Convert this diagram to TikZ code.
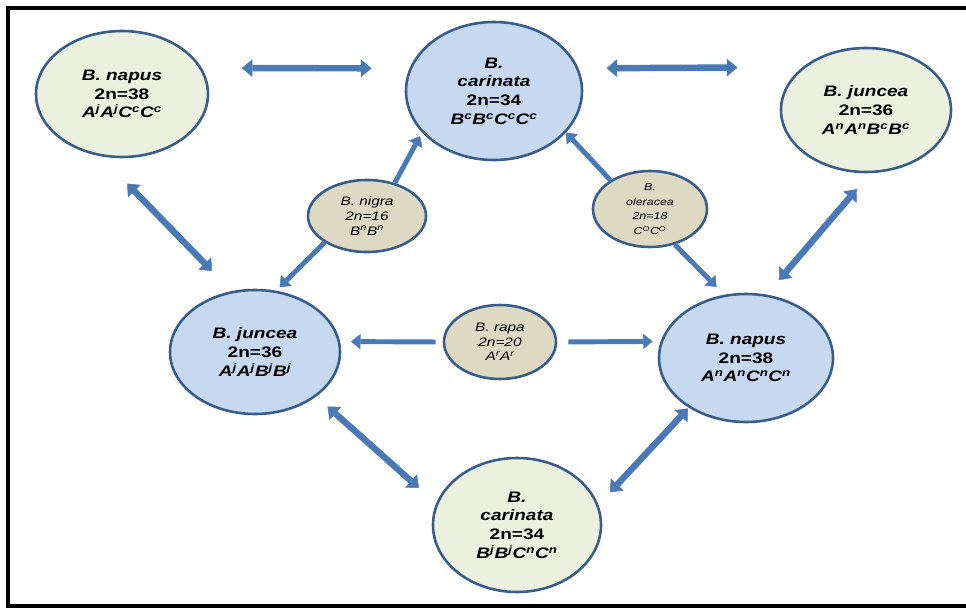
\documentclass[tikz,border=0pt]{standalone}
\usepackage{fontspec}
\setmainfont{Liberation Sans}[FakeStretch=1.25]
\usepackage{xcolor}
\usetikzlibrary{shapes.geometric, arrows.meta}

\definecolor{edgeblue}{HTML}{385D8A}
\definecolor{arrowblue}{HTML}{4A7AB5}
\definecolor{paleblue}{HTML}{C6D9F1}
\definecolor{palegreen}{HTML}{EBF1DE}
\definecolor{paletan}{HTML}{DDD9C3}

\newcommand{\sps}[1]{\textsuperscript{#1}}

\begin{document}
\begin{tikzpicture}[x=0.03cm, y=-0.03cm,
    sp/.style={ellipse, draw=edgeblue, line width=2.2pt, inner sep=0pt, align=center},
    big/.style={sp, font=\fontsize{13}{16}\selectfont\bfseries\itshape},
    small/.style={sp, fill=paletan, font=\fontsize{10.5}{12.5}\selectfont\itshape},
    biarrow/.style={arrowblue, line width=5.5pt,
        arrows={Triangle[width=15pt,length=9pt,line width=0.4pt]-Triangle[width=15pt,length=9pt,line width=0.4pt]}},
    oneway/.style={arrowblue, line width=4.2pt,
        arrows={-Triangle[width=13pt,length=8pt,line width=0.4pt]}}]
    \useasboundingbox (0,0) rectangle (966,611);
    \draw[line width=3pt] (8,8) rectangle (990,606);

    \node[big, fill=palegreen, minimum width=5.16cm, minimum height=3.78cm] (napA) at (122,94)
        {B. napus\\{\upshape 2n=38}\\A\sps{j}A\sps{j}C\sps{c}C\sps{c}};
    \node[big, fill=paleblue, minimum width=5.28cm, minimum height=4.14cm] (carA) at (494,91)
        {B.\\carinata\\{\upshape 2n=34}\\B\sps{c}B\sps{c}C\sps{c}C\sps{c}};
    \node[big, fill=palegreen, minimum width=5.10cm, minimum height=3.72cm] (jucA) at (866,110)
        {B. juncea\\{\upshape 2n=36}\\A\sps{n}A\sps{n}B\sps{c}B\sps{c}};

    \node[small, minimum width=3.54cm, minimum height=2.16cm] (nigra) at (367,216)
        {B. nigra\\2n=16\\B\sps{n}B\sps{n}};
    \node[small, minimum width=3.42cm, minimum height=2.28cm,
        font=\fontsize{8.5}{12.5}\selectfont\itshape] (olera) at (650,209)
        {B.\\oleracea\\2n=18\\C\sps{O}C\sps{O}};
    \node[small, minimum width=3.36cm, minimum height=2.22cm] (rapa) at (500,342)
        {B. rapa\\2n=20\\A\sps{r}A\sps{r}};

    \node[big, fill=paleblue, minimum width=5.10cm, minimum height=3.72cm] (junL) at (255,352)
        {B. juncea\\{\upshape 2n=36}\\A\sps{j}A\sps{j}B\sps{j}B\sps{j}};
    \node[big, fill=paleblue, minimum width=5.22cm, minimum height=3.84cm] (napR) at (746,358)
        {B. napus\\{\upshape 2n=38}\\A\sps{n}A\sps{n}C\sps{n}C\sps{n}};
    \node[big, fill=palegreen, minimum width=5.04cm, minimum height=4.02cm] (carB) at (517,525)
        {B.\\carinata\\{\upshape 2n=34}\\B\sps{j}B\sps{j}C\sps{n}C\sps{n}};

    \draw[biarrow, shorten <=1.2cm, shorten >=1.14cm] (napA.18) -- (carA.165);
    \draw[biarrow, shorten <=0.84cm, shorten >=1.95cm] (carA.15) -- (jucA.146);
    \draw[biarrow, shorten <=1.14cm, shorten >=0.84cm] (napA.251) -- (junL.111);
    \draw[biarrow, shorten <=0.63cm, shorten >=0.57cm] (jucA.274) -- (napR.72);
    \draw[biarrow, shorten <=0.45cm, shorten >=0.69cm] (junL.324) -- (carB.165);
    \draw[biarrow, shorten <=0.03cm, shorten >=0.51cm] (napR.221) -- (carB.14);

    \draw[oneway, shorten >=0.12cm] (nigra.50) -- (carA.210);
    \draw[oneway, shorten >=0.15cm] (nigra.212) -- (junL.71);
    \draw[oneway] (olera.144) -- (carA.330);
    \draw[oneway, shorten >=0.33cm] (olera.305) -- (napR.109);
    \draw[oneway, shorten <=0.21cm, shorten >=0.33cm] (rapa.180) -- (junL.7);
    \draw[oneway, shorten <=0.33cm, shorten >=0.24cm] (rapa.0) -- (napR.169);
\end{tikzpicture}
\end{document}
